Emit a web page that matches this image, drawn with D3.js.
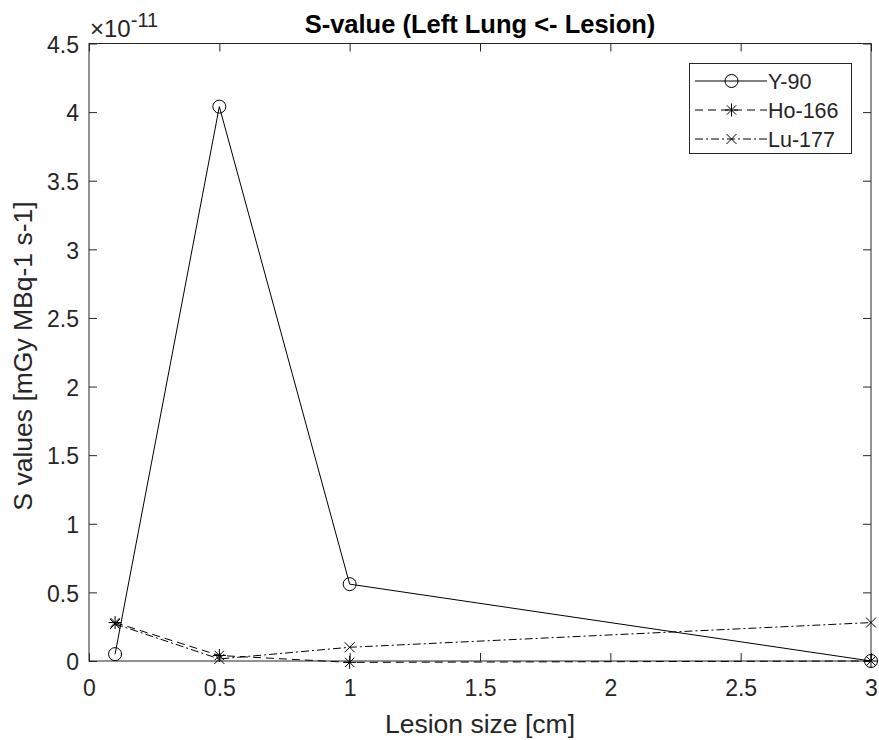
<!DOCTYPE html>
<html>
<head>
<meta charset="utf-8">
<script src="https://cdn.jsdelivr.net/npm/d3@7"></script>
<style>
  body { margin: 0; background: #fff; }
  text { font-family: "Liberation Sans", Arial, sans-serif; }
</style>
</head>
<body>
<svg id="chart" width="879" height="740"></svg>
<script>
// data (S values in units of 1e-11)
let lesionSizes = [0.1, 0.5, 1, 3];
let y90 = [0.05, 4.04, 0.56, 0.0];
let ho166 = [0.28, 0.04, -0.01, 0.0];
let lu177 = [0.27, 0.015, 0.10, 0.28];
let xTicks = [0, 0.5, 1, 1.5, 2, 2.5, 3];
let yTicks = [0, 0.5, 1, 1.5, 2, 2.5, 3, 3.5, 4, 4.5];

let seriesNames = ["Y-90", "Ho-166", "Lu-177"];
let seriesValues = [y90, ho166, lu177];
let seriesDash = [null, "8,5", "8,3,2,3"];
let seriesMarker = ["circle", "asterisk", "cross"];

let svg = d3.select("#chart");
let axisColor = "#262626";

let plotLeft = 89, plotRight = 871, plotTop = 43.5, plotBottom = 661;

let x = d3.scaleLinear().domain([0, 3]).range([plotLeft, plotRight]);
let y = d3.scaleLinear().domain([0, 4.5]).range([plotBottom, plotTop]);

// box
svg.append("rect")
    .attr("x", plotLeft).attr("y", plotTop)
    .attr("width", plotRight - plotLeft).attr("height", plotBottom - plotTop)
    .attr("fill", "none")
    .attr("stroke", axisColor)
    .attr("stroke-width", 1);

// axes with inner ticks, MATLAB style
let tickLen = 8;
let xAxis = svg.append("g")
    .attr("transform", "translate(0," + plotBottom + ")")
    .call(d3.axisBottom(x).tickValues(xTicks).tickSize(-tickLen).tickPadding(19).tickFormat(d3.format("")));
let xAxisTop = svg.append("g")
    .attr("transform", "translate(0," + plotTop + ")")
    .call(d3.axisTop(x).tickValues(xTicks).tickSize(-tickLen).tickFormat(""));
let yAxis = svg.append("g")
    .attr("transform", "translate(" + plotLeft + ",0)")
    .call(d3.axisLeft(y).tickValues(yTicks).tickSize(-tickLen).tickPadding(10).tickFormat(d3.format("")));
let yAxisRight = svg.append("g")
    .attr("transform", "translate(" + plotRight + ",0)")
    .call(d3.axisRight(y).tickValues(yTicks).tickSize(-tickLen).tickFormat(""));

[xAxis, xAxisTop, yAxis, yAxisRight].forEach(function (g) {
    g.select(".domain").remove();
    g.selectAll("line").attr("stroke", axisColor);
    g.selectAll("text")
        .attr("fill", axisColor)
        .style("font-size", "23px")
        .style("font-family", "'Liberation Sans', Arial, sans-serif");
});
xAxis.selectAll("text").attr("dy", "0.71em");
yAxis.selectAll("text").attr("dy", "0.38em");

// exponent label
let expo = svg.append("text")
    .attr("x", 90).attr("y", 37)
    .attr("fill", axisColor)
    .style("font-size", "24px");
expo.append("tspan").text("\u00d710");
expo.append("tspan").attr("dy", -10).style("font-size", "20px").text("-11");

// title and labels
svg.append("text")
    .attr("x", (plotLeft + plotRight) / 2).attr("y", 33)
    .attr("text-anchor", "middle")
    .style("font-size", "25.5px").style("font-weight", "bold")
    .attr("fill", "#000")
    .text("S-value (Left Lung <- Lesion)");

svg.append("text")
    .attr("x", (plotLeft + plotRight) / 2).attr("y", 733)
    .attr("text-anchor", "middle")
    .style("font-size", "26.5px")
    .attr("fill", axisColor)
    .text("Lesion size [cm]");

svg.append("text")
    .attr("transform", "translate(31.5,356) rotate(-90)")
    .attr("text-anchor", "middle")
    .style("font-size", "26.5px")
    .attr("fill", axisColor)
    .text("S values [mGy MBq-1 s-1]");

// markers
function drawMarker(g, type, cx, cy) {
    if (type == "circle") {
        g.append("circle").attr("cx", cx).attr("cy", cy).attr("r", 6.5)
            .attr("fill", "none").attr("stroke", "#000").attr("stroke-width", 1);
    } else if (type == "asterisk") {
        let s = 6.5;
        let p = "M" + (cx - s) + "," + cy + "H" + (cx + s) +
            "M" + cx + "," + (cy - s) + "V" + (cy + s) +
            "M" + (cx - s * 0.72) + "," + (cy - s * 0.72) + "L" + (cx + s * 0.72) + "," + (cy + s * 0.72) +
            "M" + (cx - s * 0.72) + "," + (cy + s * 0.72) + "L" + (cx + s * 0.72) + "," + (cy - s * 0.72);
        g.append("path").attr("d", p).attr("stroke", "#000").attr("stroke-width", 1).attr("fill", "none");
    } else {
        let s = 5;
        let p = "M" + (cx - s) + "," + (cy - s) + "L" + (cx + s) + "," + (cy + s) +
            "M" + (cx - s) + "," + (cy + s) + "L" + (cx + s) + "," + (cy - s);
        g.append("path").attr("d", p).attr("stroke", "#000").attr("stroke-width", 1).attr("fill", "none");
    }
}

let line = d3.line()
    .x(function (d) { return x(d[0]); })
    .y(function (d) { return y(d[1]); });

seriesValues.forEach(function (vals, i) {
    let pts = lesionSizes.map(function (s, j) { return [s, vals[j]]; });
    let g = svg.append("g");
    g.append("path")
        .datum(pts)
        .attr("d", line)
        .attr("fill", "none")
        .attr("stroke", "#000")
        .attr("stroke-width", 1)
        .attr("stroke-dasharray", seriesDash[i]);
    pts.forEach(function (p) {
        drawMarker(g, seriesMarker[i], x(p[0]), y(p[1]));
    });
});

// legend
let legend = svg.append("g");
legend.append("rect")
    .attr("x", 689.5).attr("y", 63.5)
    .attr("width", 162).attr("height", 90)
    .attr("fill", "#fff")
    .attr("stroke", axisColor)
    .attr("stroke-width", 1);

seriesNames.forEach(function (name, i) {
    let ly = 81 + i * 29;
    legend.append("line")
        .attr("x1", 695).attr("x2", 767)
        .attr("y1", ly).attr("y2", ly)
        .attr("stroke", "#000").attr("stroke-width", 1)
        .attr("stroke-dasharray", seriesDash[i]);
    drawMarker(legend, seriesMarker[i], 731.5, ly);
    legend.append("text")
        .attr("x", 768).attr("y", ly)
        .attr("dy", "0.36em")
        .style("font-size", "21.5px")
        .attr("fill", axisColor)
        .text(name);
});
</script>
</body>
</html>
